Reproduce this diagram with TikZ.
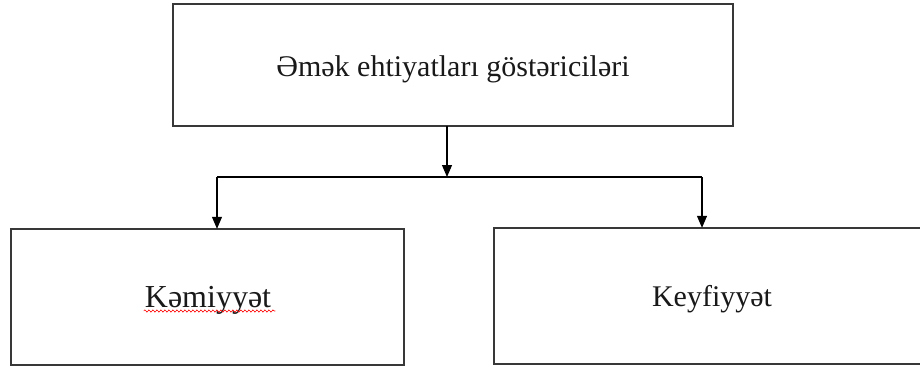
\documentclass[tikz,border=0pt]{standalone}
\usepackage{fontspec}
\setmainfont{Liberation Serif}
\usetikzlibrary{arrows.meta,decorations.pathmorphing}
\begin{document}
\begin{tikzpicture}[x=1pt,y=-1pt,
  boxst/.style={draw=black!78,line width=1.6pt,fill=none},
  conn/.style={draw=black,line width=1.1pt},
  arr/.style={conn,-{Triangle[length=12pt,width=10pt]}},
  lbl/.style={anchor=base,inner sep=0pt,font=\fontsize{30}{36}\selectfont,text=black!90}]
\useasboundingbox (0,0) rectangle (920,369);
% boxes
\draw[boxst] (173,4) rectangle (733,126);
\draw[boxst] (11,229) rectangle (404,365);
\draw[boxst] (494,228) rectangle (932,364);
\node[inner sep=0pt,minimum width=560pt,minimum height=122pt] (top) at (453,65) {};
\node[inner sep=0pt,minimum width=393pt,minimum height=136pt] (left) at (207.5,297) {};
\node[inner sep=0pt,minimum width=438pt,minimum height=136pt] (right) at (713,296) {};
% labels
\node[lbl] (toptext) at (453,76) {Əmək ehtiyatları göstəriciləri};
\node[lbl,font=\fontsize{32}{36}\selectfont] (lefttext) at (208,307) {Kəmiyyət};
\node[lbl] (righttext) at (712,306) {Keyfiyyət};
% spell-check underline
\draw[red,line width=0.6pt,decorate,decoration={snake,amplitude=1.1pt,segment length=4pt}]
  ([shift={(-1,4)}]lefttext.base west) -- ([shift={(4,4)}]lefttext.base east);
% connectors
\coordinate (j) at (447,177);
\coordinate (lj) at (217,177);
\coordinate (rj) at (702,177);
\draw[arr] (top.south -| j) -- (j);
\draw[conn] (lj) -- (rj);
\draw[arr] (lj) -- (lj |- left.north);
\draw[arr] (rj) -- (rj |- right.north);
\end{tikzpicture}
\end{document}
